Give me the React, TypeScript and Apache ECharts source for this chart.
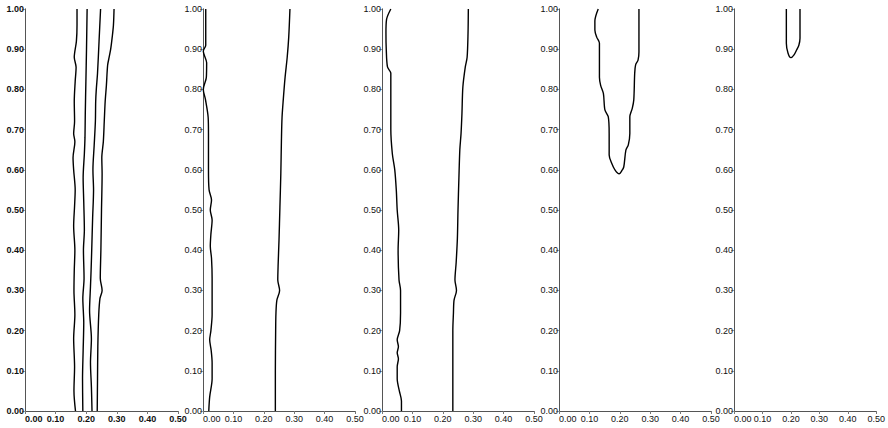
import React, { useEffect, useRef } from "react";
import * as echarts from "echarts";

// ---- data: each curve is a list of [x, y] points, in drawing order ----
const xTicks = [0, 0.1, 0.2, 0.3, 0.4, 0.5];
const yTicks = [0, 0.1, 0.2, 0.3, 0.4, 0.5, 0.6, 0.7, 0.8, 0.9, 1.0];

// Panel 1: four contour lines
const p1A = [[0.165,0],[0.16,0.05],[0.162,0.11],[0.159,0.18],[0.163,0.24],[0.16,0.3],[0.161,0.35],[0.163,0.4],[0.159,0.46],[0.162,0.51],[0.164,0.55],[0.159,0.6],[0.157,0.63],[0.163,0.67],[0.159,0.69],[0.162,0.72],[0.161,0.77],[0.164,0.82],[0.167,0.855],[0.161,0.88],[0.168,0.92],[0.17,0.96],[0.17,1.0]];
const p1B = [[0.189,0],[0.188,0.08],[0.19,0.15],[0.192,0.22],[0.189,0.28],[0.193,0.33],[0.191,0.4],[0.194,0.45],[0.192,0.52],[0.19,0.58],[0.194,0.64],[0.196,0.68],[0.197,0.74],[0.199,0.82],[0.201,0.9],[0.203,1.0]];
const p1C = [[0.219,0],[0.217,0.06],[0.214,0.12],[0.217,0.18],[0.211,0.25],[0.214,0.31],[0.216,0.35],[0.218,0.4],[0.221,0.48],[0.224,0.55],[0.222,0.6],[0.226,0.66],[0.23,0.72],[0.231,0.77],[0.233,0.8],[0.237,0.84],[0.242,0.92],[0.247,1.0]];
const p1D = [[0.236,0],[0.237,0.08],[0.238,0.16],[0.241,0.24],[0.245,0.28],[0.252,0.3],[0.246,0.33],[0.248,0.4],[0.25,0.5],[0.252,0.59],[0.251,0.63],[0.256,0.67],[0.259,0.72],[0.262,0.77],[0.266,0.81],[0.27,0.86],[0.275,0.88],[0.28,0.9],[0.285,0.93],[0.289,0.96],[0.291,1.0]];

// Panel 2: two contour lines
const p2E = [[0.019,0],[0.022,0.035],[0.03,0.08],[0.03,0.12],[0.027,0.15],[0.022,0.177],[0.026,0.2],[0.03,0.24],[0.03,0.33],[0.028,0.38],[0.024,0.41],[0.026,0.44],[0.03,0.475],[0.024,0.5],[0.028,0.525],[0.02,0.55],[0.018,0.6],[0.018,0.69],[0.017,0.73],[0.008,0.775],[0.001,0.8],[0.011,0.83],[0.012,0.866],[0.001,0.895],[0.009,0.91],[0.009,1.0]];
const p2F = [[0.238,0],[0.238,0.1],[0.239,0.2],[0.24,0.244],[0.243,0.276],[0.252,0.3],[0.246,0.326],[0.247,0.36],[0.25,0.425],[0.253,0.507],[0.256,0.59],[0.258,0.674],[0.26,0.73],[0.264,0.774],[0.27,0.83],[0.277,0.88],[0.282,0.93],[0.286,1.0]];

// Panel 3: two contour lines
const p3G = [[0.064,0],[0.064,0.025],[0.057,0.05],[0.05,0.08],[0.05,0.11],[0.054,0.13],[0.05,0.145],[0.054,0.16],[0.05,0.177],[0.058,0.2],[0.061,0.244],[0.061,0.3],[0.056,0.326],[0.053,0.4],[0.055,0.45],[0.05,0.5],[0.047,0.55],[0.042,0.6],[0.034,0.64],[0.029,0.7],[0.029,0.84],[0.018,0.856],[0.014,0.9],[0.013,0.94],[0.015,0.974],[0.029,1.0]];
const p3H = [[0.233,0],[0.233,0.1],[0.233,0.2],[0.235,0.244],[0.237,0.276],[0.245,0.3],[0.24,0.326],[0.244,0.37],[0.248,0.43],[0.25,0.5],[0.253,0.58],[0.256,0.65],[0.26,0.69],[0.263,0.74],[0.266,0.806],[0.274,0.856],[0.28,0.88],[0.283,0.94],[0.284,1.0]];

// Panel 4: one closed-bottom contour
const p4U = [[0.129,1.0],[0.118,0.97],[0.118,0.948],[0.124,0.93],[0.133,0.915],[0.133,0.83],[0.137,0.81],[0.146,0.79],[0.151,0.749],[0.162,0.732],[0.165,0.69],[0.165,0.637],[0.173,0.617],[0.184,0.6],[0.198,0.59],[0.206,0.597],[0.213,0.607],[0.22,0.649],[0.228,0.662],[0.233,0.69],[0.233,0.732],[0.241,0.753],[0.246,0.774],[0.249,0.84],[0.252,0.861],[0.26,0.873],[0.263,0.893],[0.263,1.0]];

// Panel 5: one small contour
const p5U = [[0.184,1.0],[0.184,0.915],[0.19,0.89],[0.2,0.879],[0.211,0.886],[0.22,0.898],[0.228,0.91],[0.232,0.927],[0.232,1.0]];

const panels = [
  { curves: [p1A, p1B, p1C, p1D], bold: true },
  { curves: [p2E, p2F], bold: false },
  { curves: [p3G, p3H], bold: false },
  { curves: [p4U], bold: false },
  { curves: [p5U], bold: false },
];

// layout
const gridLefts = [25, 203, 382, 559, 734];
const gridWidths = [153, 152, 152, 152, 152];
const FONT = '"Liberation Sans Narrow", "Arial Narrow", "Liberation Sans", Arial, sans-serif';

export default function App() {
  const ref = useRef<HTMLDivElement>(null);
  useEffect(() => {
    if (!ref.current) return;
    const chart = echarts.init(ref.current, null, { renderer: "svg" });
    const grid: any[] = [];
    const xAxis: any[] = [];
    const yAxis: any[] = [];
    const series: any[] = [];
    panels.forEach((p, i) => {
      grid.push({ left: gridLefts[i], width: gridWidths[i], top: 9, height: 402, containLabel: false });
      const labelStyle = {
        fontFamily: FONT,
        fontSize: 9,
        color: "#111",
        fontWeight: p.bold ? "bold" : "normal",
      };
      xAxis.push({
        type: "value", gridIndex: i, position: "bottom",
        min: xTicks[0], max: xTicks[xTicks.length - 1], interval: 0.1,
        axisLine: { show: true, lineStyle: { color: "#222", width: 1 } },
        axisTick: { show: false },
        splitLine: { show: false },
        axisLabel: {
          ...labelStyle, margin: 3, formatter: (v: number) => v.toFixed(2),
          alignMinLabel: "left", showMaxLabel: true, showMinLabel: true, hideOverlap: false,
        },
      });
      xAxis.push({
        type: "value", gridIndex: i, position: "top",
        min: xTicks[0], max: xTicks[xTicks.length - 1], interval: 0.1,
        axisLine: { show: true, lineStyle: { color: "#555", width: 1 } },
        axisTick: { show: true, inside: true, length: 3, lineStyle: { color: "#777" } },
        splitLine: { show: false },
        axisLabel: { show: false },
      });
      yAxis.push({
        type: "value", gridIndex: i, position: "left",
        min: yTicks[0], max: yTicks[yTicks.length - 1], interval: 0.1,
        axisLine: { show: true, lineStyle: { color: "#8a8a8a", width: 1 } },
        axisTick: { show: true, inside: false, length: 3, lineStyle: { color: "#777" } },
        splitLine: { show: false },
        axisLabel: {
          ...labelStyle, margin: 1, formatter: (v: number) => v.toFixed(2),
          showMaxLabel: true, showMinLabel: true, hideOverlap: false,
        },
      });
      yAxis.push({
        type: "value", gridIndex: i, position: "right",
        min: yTicks[0], max: yTicks[yTicks.length - 1], interval: 0.1,
        axisLine: { show: true, lineStyle: { color: "#555", width: 1 } },
        axisTick: { show: true, inside: true, length: 3, lineStyle: { color: "#999" } },
        splitLine: { show: false },
        axisLabel: { show: false },
      });
      p.curves.forEach((c) => {
        series.push({
          type: "line",
          xAxisIndex: 2 * i,
          yAxisIndex: 2 * i,
          data: c,
          symbol: "none",
          showSymbol: false,
          smooth: 0.3,
          clip: false,
          lineStyle: { color: "#000", width: 1.4 },
        });
      });
    });
    chart.setOption({
      animation: false,
      backgroundColor: "#fff",
      grid,
      xAxis,
      yAxis,
      series,
    });
    return () => chart.dispose();
  }, []);
  return (
    <div
      ref={ref}
      style={{ position: "fixed", left: 0, top: 0, width: 888, height: 428 }}
    />
  );
}
